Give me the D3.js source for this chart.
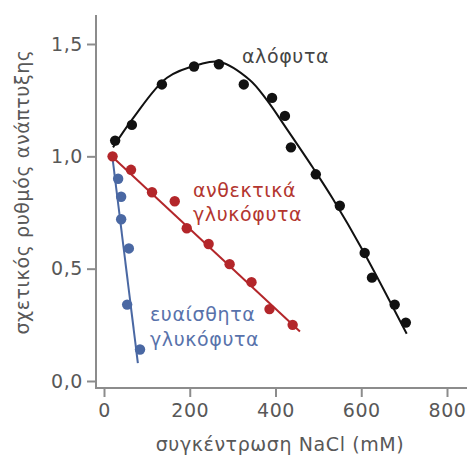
<!DOCTYPE html>
<html><head><meta charset="utf-8">
<script src="https://cdn.jsdelivr.net/npm/d3@7"></script>
<style>
html,body{margin:0;padding:0;background:#fff;}
svg{display:block;font-family:"DejaVu Sans",Verdana,sans-serif;}
</style></head>
<body><svg id="c" width="470" height="455"></svg>
<script>
// ---- data ----
const xTicks = [0, 200, 400, 600, 800];
const xTickLabels = ["0", "200", "400", "600", "800"];
const yTicks = [0, 0.5, 1.0, 1.5];
const yTickLabels = ["0,0", "0,5", "1,0", "1,5"];

const haloX = [26, 65, 135, 210, 268, 326, 392, 422, 436, 494, 550, 608, 625, 678, 704];
const haloY = [1.07, 1.14, 1.32, 1.40, 1.41, 1.32, 1.26, 1.18, 1.04, 0.92, 0.78, 0.57, 0.46, 0.34, 0.26];
const haloCurveX = [21, 68, 147, 224, 270, 340, 380, 427, 487, 534, 604, 706];
const haloCurveY = [1.04, 1.17, 1.35, 1.41, 1.42, 1.34, 1.25, 1.12, 0.95, 0.81, 0.58, 0.21];

const tolX = [20, 63, 112, 165, 193, 244, 293, 344, 386, 440];
const tolY = [1.00, 0.94, 0.84, 0.80, 0.68, 0.61, 0.52, 0.44, 0.32, 0.25];
const tolLineX = [18, 457];
const tolLineY = [1.00, 0.22];

const sensX = [33, 40, 40, 58, 54, 84];
const sensY = [0.90, 0.82, 0.72, 0.59, 0.34, 0.14];
const sensLineX = [20, 79];
const sensLineY = [0.99, 0.08];

const labelHalo = ["αλόφυτα"];
const labelTol = ["ανθεκτικά", "γλυκόφυτα"];
const labelSens = ["ευαίσθητα", "γλυκόφυτα"];
const xTitle = "συγκέντρωση NaCl (mM)";
const yTitle = "σχετικός ρυθμός ανάπτυξης";

// ---- drawing ----
const svg = d3.select("#c");
const x = d3.scaleLinear().domain([0, 800]).range([104, 447]);
const y = d3.scaleLinear().domain([0, 1.5]).range([381, 44]);
const axisCol = "#8c8c8c", tickTxt = "#585858";
const cBlack = "#111", cRed = "#b3262a", cBlue = "#4a68a3";
const FS = "19px", LS = "0.6px";

// axes
const yAx = svg.append("g").attr("transform", "translate(96,0)")
  .call(d3.axisLeft(y).tickValues(yTicks).tickSize(9).tickPadding(4)
    .tickFormat((d, i) => yTickLabels[i]));
const xAx = svg.append("g").attr("transform", "translate(0,388)")
  .call(d3.axisBottom(x).tickValues(xTicks).tickSize(9).tickPadding(7)
    .tickFormat((d, i) => xTickLabels[i]));
[yAx, xAx].forEach(g => {
  g.select(".domain").remove();
  g.selectAll("line").attr("stroke", axisCol).attr("stroke-width", 2);
  g.selectAll("text").attr("fill", tickTxt).style("font-size", FS).style("letter-spacing", LS)
    .style("font-family", '"DejaVu Sans",Verdana,sans-serif');
});
svg.append("line").attr("x1", 96).attr("x2", 96).attr("y1", 15).attr("y2", 389)
  .attr("stroke", axisCol).attr("stroke-width", 2);
svg.append("line").attr("x1", 95).attr("x2", 467).attr("y1", 388).attr("y2", 388)
  .attr("stroke", axisCol).attr("stroke-width", 2);

// titles
svg.append("text").attr("x", 280).attr("y", 451).attr("text-anchor", "middle")
  .attr("fill", tickTxt).style("font-size", FS).style("letter-spacing", LS).text(xTitle);
svg.append("text").attr("transform", "translate(29,192) rotate(-90)")
  .attr("text-anchor", "middle").attr("fill", tickTxt).style("font-size", FS)
  .style("letter-spacing", LS).text(yTitle);

function series(xs, ys, lx, ly, col, curve) {
  const lp = lx.map((v, i) => [v, ly[i]]);
  const ln = d3.line().x(d => x(d[0])).y(d => y(d[1]));
  if (curve) ln.curve(curve);
  svg.append("path").datum(lp).attr("fill", "none").attr("stroke", col).attr("stroke-width", 2)
    .attr("d", ln);
  svg.append("g").selectAll("circle").data(xs.map((v, i) => [v, ys[i]])).join("circle")
    .attr("cx", d => x(d[0])).attr("cy", d => y(d[1])).attr("r", 5.2).attr("fill", col);
}
series(haloX, haloY, haloCurveX, haloCurveY, cBlack, d3.curveCatmullRom);
series(sensX, sensY, sensLineX, sensLineY, cBlue, null);
series(tolX, tolY, tolLineX, tolLineY, cRed, null);

function label(lines, x0, y0, col, gap) {
  const t = svg.append("text").attr("fill", col).style("font-size", FS).style("letter-spacing", LS);
  lines.forEach((s, i) => t.append("tspan").attr("x", x0).attr("y", y0 + i * gap).text(s));
}
label(labelHalo, 242, 63, "#444", 24);
label(labelTol, 193, 197, "#b3362f", 24);
label(labelSens, 150, 321, "#5872ab", 25);
</script></body></html>
